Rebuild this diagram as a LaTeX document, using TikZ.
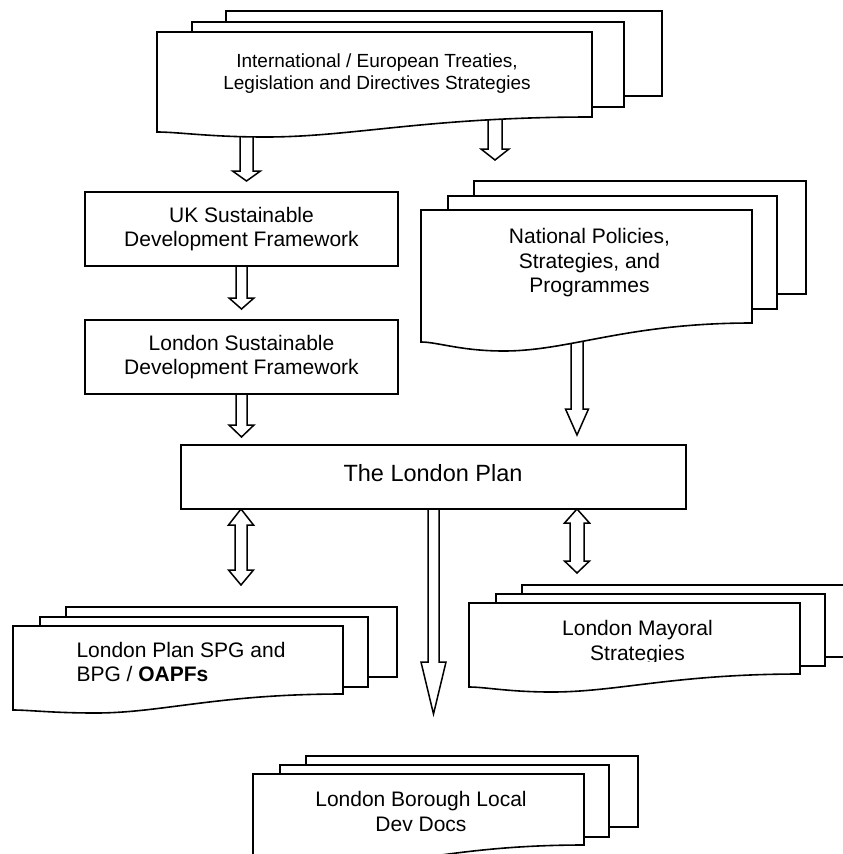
\documentclass[tikz,border=0pt]{standalone}
\usepackage{fontspec}
\setmainfont{Liberation Sans}
\tikzset{
  docline/.style={draw=black, fill=white, line width=1.6pt, line join=miter},
  boxstyle/.style={draw=black, fill=white, line width=1.6pt, inner sep=0pt},
  barrow/.style={draw=black, fill=white, line width=1.5pt, line join=miter},
  lbl/.style={align=center, inner sep=0pt, font=\fontsize{21}{24.4}\selectfont},
  lblsmall/.style={align=center, inner sep=0pt, font=\fontsize{19}{22}\selectfont},
  lblbig/.style={inner sep=0pt, font=\fontsize{23.5}{28}\selectfont},
}
% back page: x1 y1 x2 y2
\newcommand\backpage[4]{\path[docline] (#1,#2) rectangle (#3,#4);}
% front page: x1 y1 x2 yRight yLeft yDip
\newcommand\frontpage[6]{\path[docline] (#1,#2) -- (#3,#2) -- (#3,#4)
  .. controls ({#1+0.62*(#3-#1)},#4) and ({#1+0.45*(#3-#1)},#6) .. ({#1+0.25*(#3-#1)},#6)
  .. controls ({#1+0.12*(#3-#1)},#6) and ({#1+0.05*(#3-#1)},#5) .. (#1,#5) -- cycle;}
% single block arrow: x, ystart, yheadbase, ytip, shaft half width, head half width
\newcommand\sarrow[6]{\path[barrow] ({#1-#5},#2) -- ({#1-#5},#3) -- ({#1-#6},#3) -- (#1,#4)
  -- ({#1+#6},#3) -- ({#1+#5},#3) -- ({#1+#5},#2);}
% double block arrow: x, ytip1, ybase1, ybase2, ytip2, shaft half width, head half width
\newcommand\darrow[7]{\path[barrow] (#1,#2) -- ({#1+#7},#3) -- ({#1+#6},#3) -- ({#1+#6},#4)
  -- ({#1+#7},#4) -- (#1,#5) -- ({#1-#7},#4) -- ({#1-#6},#4) -- ({#1-#6},#3) -- ({#1-#7},#3) -- cycle;}
\begin{document}
\begin{tikzpicture}[x=1pt, y=-1pt]
\useasboundingbox (0,0) rectangle (843,854);
\clip (0,0) rectangle (843,854);
\fill[white] (0,0) rectangle (843,854);

% single arrows (drawn first; their tails are hidden under the source shapes)
\sarrow{246.5}{120}{171}{181}{6.5}{14}
\sarrow{495}{105}{149}{160}{7}{14}
\sarrow{241.5}{260}{298}{309}{5.5}{12.5}
\sarrow{241.5}{388}{425}{437}{5.5}{12.5}
\sarrow{577}{320}{409}{435}{6}{11.5}
\sarrow{433.5}{495}{662}{714}{5.5}{12.5}

% International / European multi-document
\backpage{226}{11}{662}{96}
\backpage{192}{22}{624}{107}
\frontpage{157}{32}{592}{117}{132}{137}
\node[lblsmall] (T) at (377,73.2) {International / European Treaties,\\Legislation and Directives Strategies};

% National multi-document
\backpage{474}{181}{806}{294}
\backpage{448}{196}{777}{309}
\frontpage{421}{210}{752}{323}{342}{351}
\node[lbl] (N) at (589.5,262.7) {National Policies,\\Strategies, and\\Programmes};

% Framework boxes
\node[boxstyle, lbl, minimum width=313pt, minimum height=74pt] (UK) at (241.5,229) {UK Sustainable\\Development Framework};
\node[boxstyle, lbl, minimum width=313pt, minimum height=74pt] (LSDF) at (241.5,357) {London Sustainable\\Development Framework};

% The London Plan
\node[boxstyle, minimum width=505pt, minimum height=64pt] (LP) at (433.5,477) {};
\node[lblbig] (LPtext) at (433,473.2) {The London Plan};

% SPG multi-document
\backpage{66}{607}{397}{677}
\backpage{40}{617}{368}{687}
\frontpage{13}{626}{343}{694}{710}{713}
\node[lbl, align=left] (S) at (181,662) {London Plan SPG and\\BPG / \textbf{OAPFs}};

% Mayoral multi-document
\backpage{522}{585}{880}{657}
\backpage{496}{594}{825}{666}
\frontpage{469}{603}{800}{674}{687}{692}
\begin{scope}
\clip (469,600) rectangle (800,661);
\node[lbl] (M) at (637.5,642.7) {London Mayoral\\Strategies};
\end{scope}

% Borough multi-document
\backpage{306}{756}{638}{827}
\backpage{280}{765}{609}{837}
\frontpage{253}{774}{584}{845}{861}{866}
\node[lbl] (B) at (421,811.5) {London Borough Local\\Dev Docs};

% double arrows from The London Plan
\darrow{241}{509}{525}{570}{585}{6}{12.5}
\darrow{577}{509}{523}{561}{573}{7}{12.5}
\end{tikzpicture}
\end{document}
